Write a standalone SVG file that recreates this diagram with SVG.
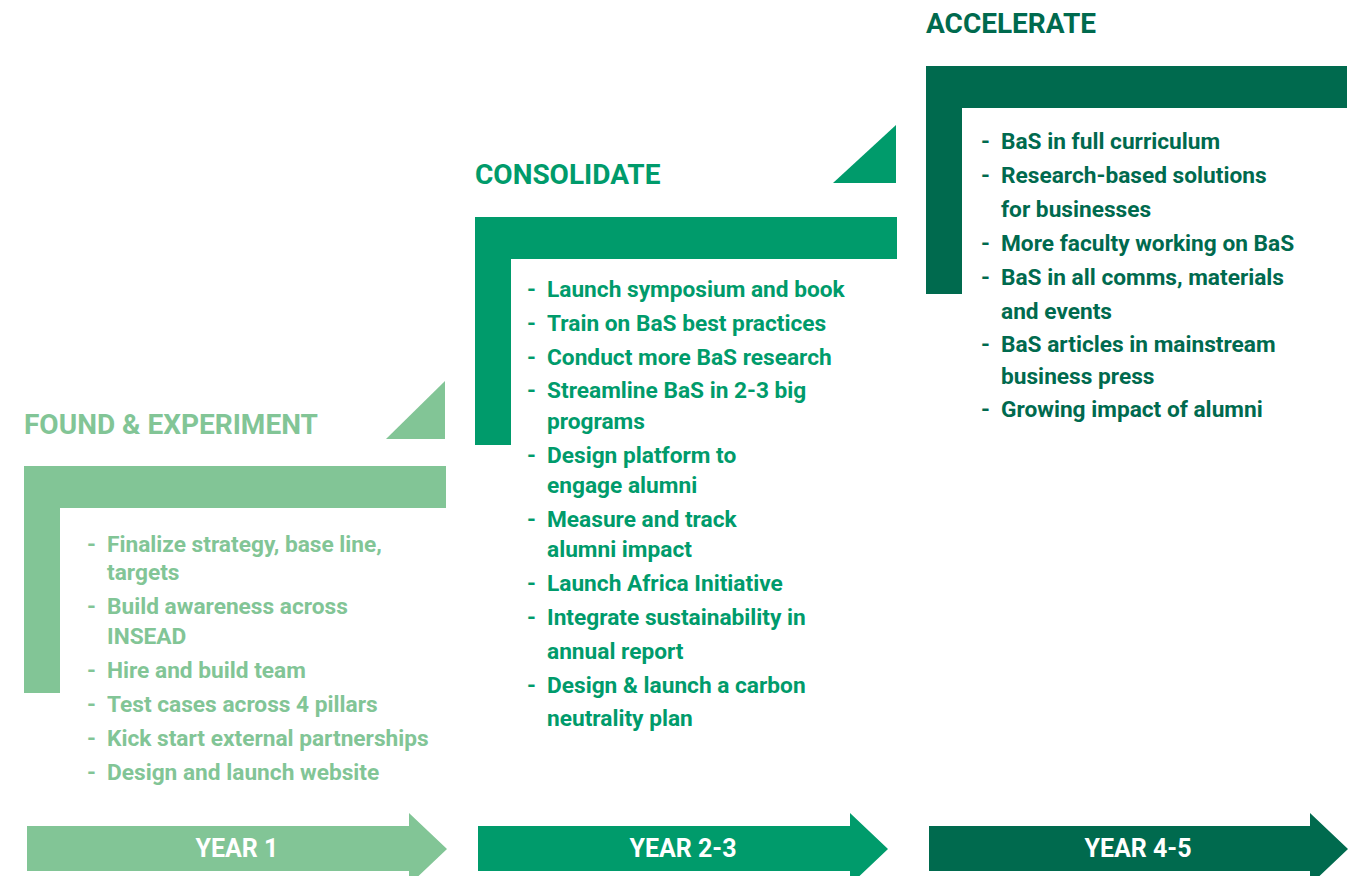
<svg xmlns="http://www.w3.org/2000/svg" width="1364" height="876" viewBox="0 0 1364 876">
<style>
text{font-family:Roboto,"Liberation Sans",sans-serif;font-weight:700}
.t{font-size:28px}
.b{font-size:22.7px}
.y{font-size:25px;fill:#fff;text-anchor:middle}
.c1{fill:#82C596}
.c2{fill:#009B6B}
.c3{fill:#006A4E}
</style>
<rect width="1364" height="876" fill="#fff"/>
<g id="phase1">
<text class="t c1" x="24" y="434">FOUND &amp; EXPERIMENT</text>
<polygon class="c1" points="445,381 445,439 386,439"/>
<path class="c1" d="M24,466H446V508H60V693H24Z"/>
<g class="b c1">
<text x="87" y="552">-</text><text x="107" y="552">Finalize strategy, base line,</text>
<text x="107" y="580">targets</text>
<text x="87" y="614">-</text><text x="107" y="614">Build awareness across</text>
<text x="107" y="644">INSEAD</text>
<text x="87" y="678">-</text><text x="107" y="678">Hire and build team</text>
<text x="87" y="712">-</text><text x="107" y="712">Test cases across 4 pillars</text>
<text x="87" y="746">-</text><text x="107" y="746">Kick start external partnerships</text>
<text x="87" y="780">-</text><text x="107" y="780">Design and launch website</text>
</g>
</g>
<g id="phase2">
<text class="t c2" x="475" y="184">CONSOLIDATE</text>
<polygon class="c2" points="896,125 896,183 833,183"/>
<path class="c2" d="M475,217H897V259H511V445H475Z"/>
<g class="b c2">
<text x="527" y="297">-</text><text x="547" y="297">Launch symposium and book</text>
<text x="527" y="331">-</text><text x="547" y="331">Train on BaS best practices</text>
<text x="527" y="365">-</text><text x="547" y="365">Conduct more BaS research</text>
<text x="527" y="398">-</text><text x="547" y="398">Streamline BaS in 2-3 big</text>
<text x="547" y="429">programs</text>
<text x="527" y="463">-</text><text x="547" y="463">Design platform to</text>
<text x="547" y="493">engage alumni</text>
<text x="527" y="527">-</text><text x="547" y="527">Measure and track</text>
<text x="547" y="557">alumni impact</text>
<text x="527" y="591">-</text><text x="547" y="591">Launch Africa Initiative</text>
<text x="527" y="625">-</text><text x="547" y="625">Integrate sustainability in</text>
<text x="547" y="659">annual report</text>
<text x="527" y="693">-</text><text x="547" y="693">Design &amp; launch a carbon</text>
<text x="547" y="726">neutrality plan</text>
</g>
</g>
<g id="phase3">
<text class="t c3" x="926" y="33">ACCELERATE</text>
<path class="c3" d="M926,66H1347V108H962V294H926Z"/>
<g class="b c3">
<text x="981" y="149">-</text><text x="1001" y="149">BaS in full curriculum</text>
<text x="981" y="183">-</text><text x="1001" y="183">Research-based solutions</text>
<text x="1001" y="217">for businesses</text>
<text x="981" y="251">-</text><text x="1001" y="251">More faculty working on BaS</text>
<text x="981" y="285">-</text><text x="1001" y="285">BaS in all comms, materials</text>
<text x="1001" y="319">and events</text>
<text x="981" y="352">-</text><text x="1001" y="352">BaS articles in mainstream</text>
<text x="1001" y="384">business press</text>
<text x="981" y="417">-</text><text x="1001" y="417">Growing impact of alumni</text>
</g>
</g>
<g id="year1">
<polygon class="c1" points="27,826 409,826 409,813 447,849 409,885 409,871 27,871"/>
<text class="y" x="237" y="857">YEAR 1</text>
</g>
<g id="year2-3">
<polygon class="c2" points="478,826 850,826 850,813 888,849 850,885 850,871 478,871"/>
<text class="y" x="683" y="857">YEAR 2-3</text>
</g>
<g id="year4-5">
<polygon class="c3" points="929,826 1310,826 1310,813 1348,849 1310,885 1310,871 929,871"/>
<text class="y" x="1138" y="857">YEAR 4-5</text>
</g>
<g id="connectors"></g>
</svg>
